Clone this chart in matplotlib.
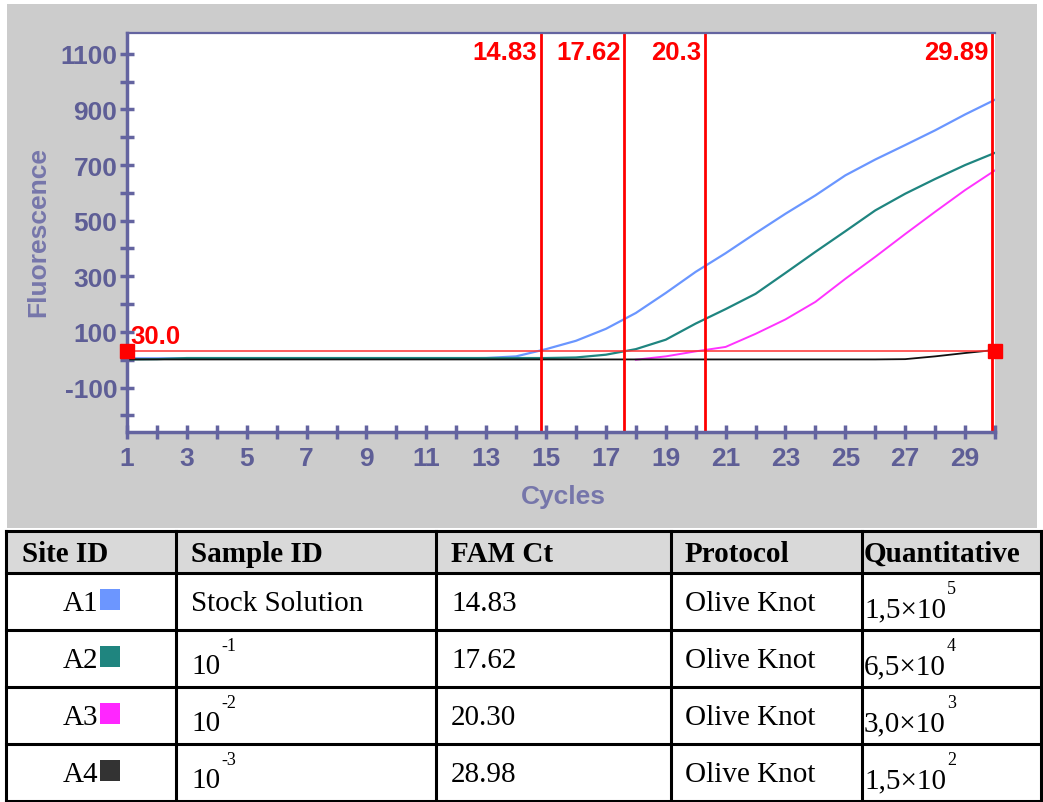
import matplotlib
matplotlib.use('Agg')
import matplotlib.pyplot as plt
from matplotlib.patches import Rectangle
import numpy as np

plt.rcParams['font.family'] = ['Liberation Sans', 'DejaVu Sans']
plt.rcParams['axes.unicode_minus'] = False

# amplification curves, cycles 1..30
cycles = list(range(1, 31))
a1 = [5, 5, 5, 5, 5, 5, 5, 5, 5, 5, 5, 5, 6, 12, 38, 68, 111, 168, 240, 316,
      383, 455, 525, 591, 663, 720, 772, 825, 882, 935]
a2 = [1, 2, 6, 6, 6, 6, 6, 6, 6, 6, 6, 6, 6, 6, 6, 8, 18, 38, 72, 130,
      182, 237, 312, 388, 462, 537, 597, 650, 700, 744]
a3 = [np.nan] * 17 + [0, 12, 30, 46, 93, 145, 208, 291, 370, 452, 532, 610, 681]
a4 = [1] * 26 + [2, 12, 24, 35]
curve_colors = ['#6a96ff', '#1f8580', '#ff33ff', '#111111']

threshold = 30.0
ct_lines = [14.83, 17.62, 20.3, 29.89]
ct_labels = ['14.83', '17.62', '20.3', '29.89']

# table
headers = ['Site ID', 'Sample ID', 'FAM Ct', 'Protocol', 'Quantitative']
site_ids = ['A1', 'A2', 'A3', 'A4']
swatch_colors = ['#6c96ff', '#1f857f', '#ff26ff', '#333333']
sample_ids = ['Stock Solution', '10^-1', '10^-2', '10^-3']
fam_ct = ['14.83', '17.62', '20.30', '28.98']
protocol = ['Olive Knot'] * 4
quant = ['1,5\u00d710^5', '6,5\u00d710^4', '3,0\u00d710^3', '1,5\u00d710^2']

W, H = 1043, 803
fig = plt.figure(figsize=(W / 100, H / 100), dpi=100)
bg = fig.add_axes([0, 0, 1, 1])
bg.set_xlim(0, W)
bg.set_ylim(H, 0)
bg.axis('off')
bg.add_patch(Rectangle((7, 5), 1030, 524, color='#cccccc', lw=0))

axc = '#6464a0'
ax = fig.add_axes([127 / W, 1 - 433 / H, (995 - 127) / W, (433 - 34) / H])
ax.plot(cycles, a1, color=curve_colors[0], lw=1.6)
ax.plot(cycles, a3, color=curve_colors[2], lw=1.4)
ax.plot(cycles, a2, color=curve_colors[1], lw=1.6)
ax.plot(cycles, a4, color=curve_colors[3], lw=1.3)

ax.axhline(threshold, color='#ff3030', lw=1.1)
for ct, lab in zip(ct_lines, ct_labels):
    ax.axvline(ct, color='#ff0000', lw=2.0)
    ax.text(ct - 0.12, 1108, lab, ha='right', va='center', color='#ff0000',
            fontsize=18.5, fontweight='bold')
ax.plot([1, 30], [threshold, threshold], 's', color='#ff0000', ms=10,
        clip_on=False, zorder=6)
ax.text(1.1, 42, '%.1f' % threshold, ha='left', va='bottom', color='#ff0000',
        fontsize=18.5, fontweight='bold')

ax.set_xlim(1, 30)
ax.set_ylim(-260, 1175)
ax.set_xticks(range(1, 30, 2))
ax.xaxis.set_minor_locator(plt.FixedLocator(range(2, 31, 2)))
ax.set_yticks(range(-100, 1101, 200))
ax.yaxis.set_minor_locator(plt.FixedLocator(range(-200, 1001, 200)))
ax.tick_params(which='both', direction='inout', length=10, width=2.5,
               color=axc, labelcolor='#5e5e96', labelsize=19)
ax.tick_params(axis='x', pad=5)
ax.tick_params(axis='y', pad=2)
for t in ax.get_xticklabels() + ax.get_yticklabels():
    t.set_fontweight('bold')
for side in ['left', 'bottom']:
    ax.spines[side].set_color(axc)
    ax.spines[side].set_linewidth(2.5)
ax.spines['top'].set_color(axc)
ax.spines['top'].set_linewidth(1.6)
ax.spines['right'].set_visible(False)

bg.text(38, 232, 'Fluorescence', rotation=90, ha='center', va='center',
        color='#7676aa', fontsize=19, fontweight='bold')
bg.text(563, 497, 'Cycles', ha='center', va='center', color='#7676aa',
        fontsize=19, fontweight='bold')

# table grid
col_x = [6, 176, 436, 671, 862, 1041]
row_y = [532, 574, 631, 688, 745, 802]
bg.add_patch(Rectangle((col_x[0], row_y[0]), col_x[-1] - col_x[0],
                       row_y[1] - row_y[0], color='#d9d9d9', lw=0))
for x in col_x:
    bg.plot([x, x], [row_y[0], row_y[-1]], color='black', lw=2.2,
            solid_capstyle='projecting')
for y in row_y:
    bg.plot([col_x[0], col_x[-1]], [y, y], color='black', lw=2.2,
            solid_capstyle='projecting')

serif = ['Liberation Serif', 'DejaVu Serif']
text_x = [22, 191, 451, 685, 864]
for x, h in zip(text_x, headers):
    bg.text(x, 562, h, family=serif, fontsize=21, fontweight='bold',
            va='baseline', ha='left')

renderer = fig.canvas.get_renderer()


def cell(x, y, s):
    if '^' in s:
        base, sup = s.split('^')
        t = bg.text(x, y + 6, base, family=serif, fontsize=21, va='baseline')
        bb = t.get_window_extent(renderer)
        bg.text(bb.x1 + 1, y - 17, sup, family=serif, fontsize=13, va='baseline')
    else:
        bg.text(x, y, s, family=serif, fontsize=21, va='baseline')


for r in range(4):
    base_y = 611 + 57 * r
    bg.text(98, base_y, site_ids[r], family=serif, fontsize=21,
            va='baseline', ha='right')
    bg.add_patch(Rectangle((100, 590 + 57 * r), 20, 21,
                           color=swatch_colors[r], lw=0))
    cell(text_x[1], base_y, sample_ids[r])
    cell(text_x[2], base_y, fam_ct[r])
    cell(text_x[3], base_y, protocol[r])
    cell(text_x[4], base_y, quant[r])

fig.savefig('out.png', dpi=100)
